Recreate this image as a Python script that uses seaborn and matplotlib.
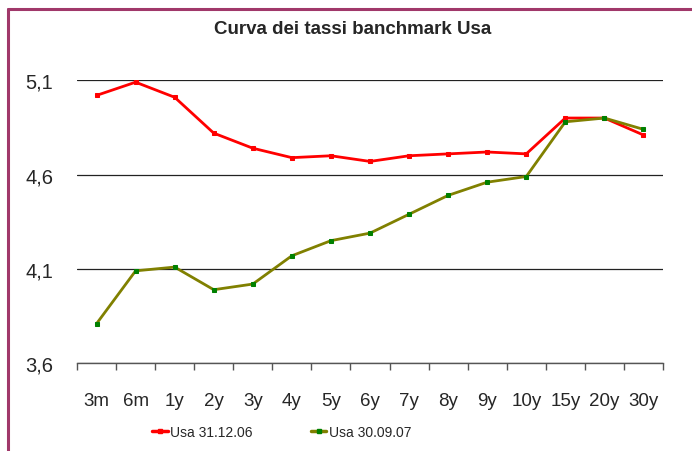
import numpy as np
import pandas as pd
import matplotlib.pyplot as plt
import seaborn as sns
from matplotlib.lines import Line2D

sns.set_theme(style="white")
plt.rcParams["font.family"] = ["Liberation Sans", "DejaVu Sans"]

# data
maturities = ["3m", "6m", "1y", "2y", "3y", "4y", "5y", "6y", "7y", "8y",
              "9y", "10y", "15y", "20y", "30y"]
usa_311206 = [5.02, 5.09, 5.01, 4.82, 4.74, 4.69, 4.70, 4.67, 4.70, 4.71,
              4.72, 4.71, 4.90, 4.90, 4.81]
usa_300907 = [3.81, 4.09, 4.11, 3.99, 4.02, 4.17, 4.25, 4.29, 4.39, 4.49,
              4.56, 4.59, 4.88, 4.90, 4.84]
series_names = ["Usa 31.12.06", "Usa 30.09.07"]
y_ticks = [3.6, 4.1, 4.6, 5.1]

df = pd.DataFrame({
    "scadenza": maturities * 2,
    "tasso": usa_311206 + usa_300907,
    "serie": [series_names[0]] * len(maturities) + [series_names[1]] * len(maturities),
})

line_colors = {series_names[0]: "#FF0000", series_names[1]: "#808000"}
marker_colors = {series_names[0]: "#FF0000", series_names[1]: "#008000"}

fig = plt.figure(figsize=(6.92, 4.52), dpi=100)
ax = fig.add_axes([77 / 692, 1 - 364.3 / 452, (663 - 77) / 692, (364.3 - 81.3) / 452])

for name in series_names:
    sns.lineplot(data=df[df["serie"] == name], x="scadenza", y="tasso", sort=False,
                 color=line_colors[name], linewidth=2.0, marker="s", markersize=3.5,
                 markerfacecolor=marker_colors[name], markeredgecolor=marker_colors[name],
                 ax=ax, legend=False)

ax.set_xlim(-0.5, len(maturities) - 0.5)
ax.set_ylim(y_ticks[0], y_ticks[-1])
ax.set_yticks(y_ticks)
ax.set_yticklabels([f"{v:.1f}".replace(".", ",") for v in y_ticks], fontsize=14.5)
ax.yaxis.grid(True, color="#222222", linewidth=0.9)
ax.tick_params(axis="y", length=0, pad=17)

ax.set_xticks(range(len(maturities)))
ax.set_xticklabels(maturities, fontsize=13.5)
ax.set_xticks(np.arange(-0.5, len(maturities), 1.0), minor=True)
ax.tick_params(axis="x", which="major", length=0, pad=21)
ax.tick_params(axis="x", which="minor", length=5, width=1, color="#555555", bottom=True)
ax.set_xlabel("")
ax.set_ylabel("")

for side in ["left", "right", "top"]:
    ax.spines[side].set_visible(False)
ax.spines["bottom"].set_color("#555555")
ax.spines["bottom"].set_linewidth(1)

handles = [Line2D([0], [0], color=line_colors[n], linewidth=2.5, marker="s",
                  markersize=3.5, markerfacecolor=marker_colors[n],
                  markeredgecolor=marker_colors[n]) for n in series_names]
fig.legend(handles, series_names, loc="center", bbox_to_anchor=(282 / 692, 1 - 433 / 452),
           ncol=2, frameon=False, fontsize=10, handlelength=1.1, handletextpad=0.2,
           columnspacing=4.2)

fig.text(353 / 692, 1 - 30 / 452, "Curva dei tassi banchmark Usa", ha="center",
         va="center", fontsize=13.5, fontweight="bold")

# page frame lines
frame_color = "#A0386A"
fig.add_artist(Line2D([8 / 692, 8 / 692], [0, 1 - 10 / 452], color=frame_color,
                      linewidth=2.2, transform=fig.transFigure))
fig.add_artist(Line2D([8 / 692, 1], [1 - 10 / 452, 1 - 10 / 452], color=frame_color,
                      linewidth=2.2, transform=fig.transFigure))

fig.savefig("out.png", dpi=100)
plt.close()
